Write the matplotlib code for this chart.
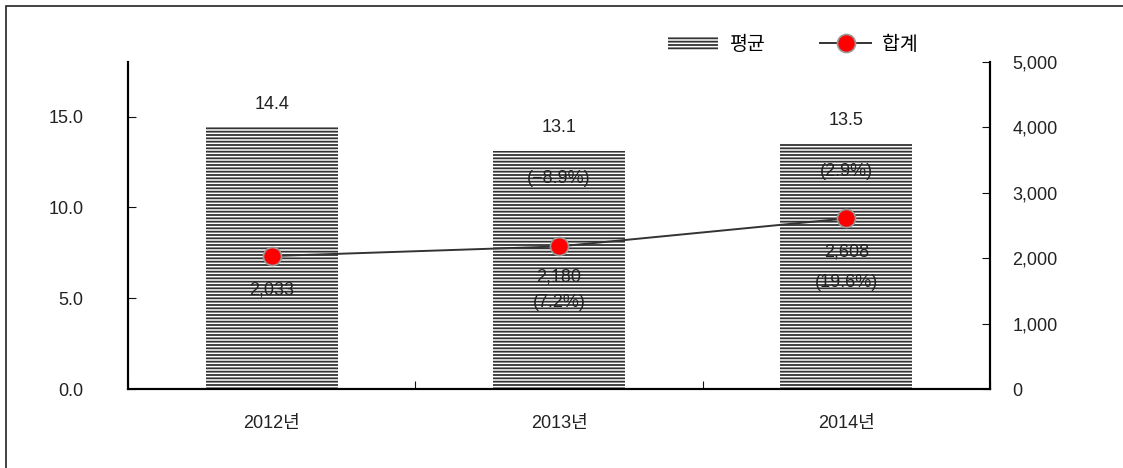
import matplotlib.pyplot as plt
import numpy as np
from matplotlib.patches import Rectangle

plt.rcParams['font.family'] = ['Liberation Sans', 'Noto Sans CJK KR', 'DejaVu Sans']
plt.rcParams['hatch.linewidth'] = 1.3

years = ["2012년", "2013년", "2014년"]
avg = [14.4, 13.1, 13.5]
avg_chg = ["", "(\u22128.9%)", "(2.9%)"]
total = [2033, 2180, 2608]
total_lbl = ["2,033", "2,180", "2,608"]
total_chg = ["", "(7.2%)", "(19.6%)"]

fig = plt.figure(figsize=(11.23, 4.68), dpi=100)
# outer frame (right/bottom run off the image)
fig.patches.append(Rectangle((6 / 1123, -0.05), 1.1, 1 - 6 / 468 + 0.05,
                             transform=fig.transFigure, fill=False,
                             edgecolor='#222222', lw=1.2))

ax = fig.add_axes([128 / 1123, 1 - 389 / 468, 862 / 1123, 327 / 468])
ax2 = ax.twinx()

x = np.arange(len(years))
bars = ax.bar(x, avg, width=0.46, facecolor='white', edgecolor='#333333',
              hatch='-----', lw=0, label='평균')
ax.set_xlim(-0.5, 2.5)
ax.set_ylim(0, 18)
ax.set_yticks([0, 5, 10, 15])
ax.set_yticklabels(["0.0", "5.0", "10.0", "15.0"])
ax.set_xticks([-0.5, 0.5, 1.5, 2.5])
ax.set_xticklabels([])
ax.set_xticks(x, minor=True)
ax.set_xticklabels(years, minor=True)
ax.tick_params(axis='x', which='minor', length=0, pad=19)
ax.tick_params(axis='x', which='major', direction='in', length=6)
ax.tick_params(axis='y', direction='in', length=6, pad=32)

for xi, v, c in zip(x, avg, avg_chg):
    ax.text(xi, v + 0.8, f"{v:.1f}", ha='center', va='bottom', fontsize=13, color='#222222')
    if c:
        ax.text(xi, v - 1.5, c, ha='center', va='center', fontsize=13, color='#222222')

line, = ax2.plot(x, total, color='#333333', lw=1.4, marker='o', markersize=13,
                 markerfacecolor='red', markeredgecolor='#999999', markeredgewidth=1.2,
                 label='합계')
ax2.set_ylim(0, 5000)
ax2.set_yticks(range(0, 5001, 1000))
ax2.set_yticklabels([f"{v:,}" for v in range(0, 5001, 1000)])
ax2.tick_params(axis='y', direction='in', length=6, pad=16)

off1 = [-520, -460, -520]
off2 = [0, -856, -979]
for xi, v, l1, l2, o1, o2 in zip(x, total, total_lbl, total_chg, off1, off2):
    ax2.text(xi, v + o1, l1, ha='center', va='center', fontsize=13, color='#222222')
    if l2:
        ax2.text(xi, v + o2, l2, ha='center', va='center', fontsize=13, color='#222222')

for a in (ax, ax2):
    a.spines['top'].set_visible(False)
    for s in ('left', 'right', 'bottom'):
        a.spines[s].set_linewidth(1.5)
    a.tick_params(which='both', labelsize=13, colors='#111111', labelcolor='#222222')

fig.legend([bars, line], ['평균', '합계'], ncol=2, frameon=False, fontsize=14,
           loc='center', bbox_to_anchor=(793 / 1123, 1 - 45 / 468),
           handlelength=2.6, columnspacing=2.8, handletextpad=0.6)

fig.savefig('out.png', dpi=100)
